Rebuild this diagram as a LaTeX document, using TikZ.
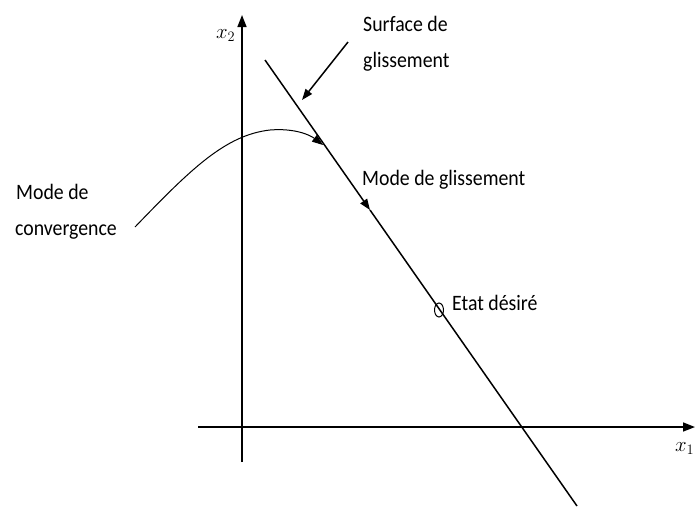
\documentclass[tikz,border=0pt]{standalone}
\usepackage{fontspec}
\setmainfont{Carlito}[FakeStretch=0.9]
\usepackage{tikz}
\usetikzlibrary{arrows.meta,positioning}
\tikzset{
  axis/.style={line width=1.6pt,-{Triangle[length=12pt,width=9pt]}},
  slide/.style={line width=1.5pt},
  conv/.style={line width=1pt},
  pointer/.style={line width=1.5pt,-{Triangle[length=11pt,width=8pt]}},
  tag/.style={inner sep=0pt,anchor=base west,font=\fontsize{22}{26}\selectfont},
  mathtag/.style={inner sep=0pt,anchor=base west,font=\fontsize{20}{24}\selectfont}
}

\begin{document}
\begin{tikzpicture}[x=1pt,y=-1pt]
  \useasboundingbox (0,0) rectangle (696,512);
  % axes
  \coordinate (ybot) at (242,462);
  \coordinate (ytop) at (242,15);
  \coordinate (xleft) at (198,427);
  \coordinate (xright) at (695,427);
  \draw[axis] (ybot) -- (ytop);
  \draw[axis] (xleft) -- (xright);
  \node[mathtag] (xtwo) at (216,38) {$x_2$};
  \node[mathtag] (xone) at (675,451) {$x_1$};
  % sliding surface
  \coordinate (stop) at (265,60);
  \coordinate (smid) at (370,210);
  \coordinate (sbot) at (577,506);
  \draw[slide,-{Triangle[length=11pt,width=8pt]}] (stop) -- (smid);
  \draw[slide] (smid) -- (sbot);
  \draw[line width=1pt] (439,310) ellipse (4.5 and 7);
  % convergence mode
  \coordinate (cstart) at (135,227);
  \coordinate (cpeak) at (270,130);
  \coordinate (chit) at (323,145);
  \draw[conv,-{Triangle[length=11pt,width=8pt]}] (cstart) .. controls (190,170) and (225,135) .. (cpeak)
    .. controls (295,128) and (310,135) .. (chit);
  % labels
  \node[tag] (surf1) at (363,31) {Surface de};
  \node[tag] (surf2) at (363,67) {glissement};
  \coordinate (ptail) at (348,42);
  \coordinate (phead) at (302,100);
  \draw[pointer] (ptail) -- (phead);
  \node[tag] (modeg) at (362,185) {Mode de glissement};
  \node[tag] (conv1) at (16,199) {Mode de};
  \node[tag] (conv2) at (15,235) {convergence};
  \node[tag] (etat) at (452,310) {Etat désiré};
\end{tikzpicture}
\end{document}
